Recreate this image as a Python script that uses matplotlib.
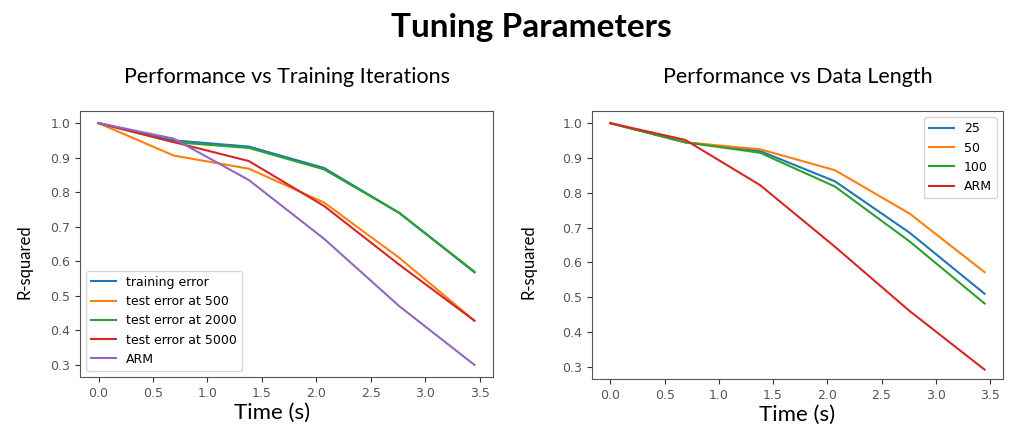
import matplotlib.pyplot as plt

time_s = [0.0, 0.69, 1.38, 2.07, 2.76, 3.45]

# left panel: training iterations
iter_labels = ['training error', 'test error at 500', 'test error at 2000',
               'test error at 5000', 'ARM']
training_error = [1.0, 0.950, 0.932, 0.870, 0.740, 0.568]
test_500 = [1.0, 0.906, 0.868, 0.770, 0.610, 0.428]
test_2000 = [1.0, 0.945, 0.928, 0.866, 0.740, 0.570]
test_5000 = [1.0, 0.945, 0.890, 0.760, 0.590, 0.428]
arm_iter = [1.0, 0.955, 0.835, 0.665, 0.470, 0.300]

# right panel: data length
length_labels = ['25', '50', '100', 'ARM']
len_25 = [1.0, 0.945, 0.920, 0.833, 0.685, 0.510]
len_50 = [1.0, 0.945, 0.925, 0.865, 0.740, 0.572]
len_100 = [1.0, 0.945, 0.915, 0.818, 0.660, 0.482]
arm_len = [1.0, 0.952, 0.822, 0.645, 0.460, 0.292]

colors = ['#1f77b4', '#ff7f0e', '#2ca02c', '#d62728', '#9467bd']
title_font = 'Lato'

fig = plt.figure(figsize=(10.16, 4.25), dpi=100)
fig.text(531 / 1016, 1 - 28 / 425, 'Tuning Parameters', ha='center', va='center',
         fontsize=24, fontweight='bold', family=title_font)

ax1 = fig.add_axes([80 / 1016, 1 - 377 / 425, 413 / 1016, 266 / 425])
ax2 = fig.add_axes([592 / 1016, 1 - 379 / 425, 411 / 1016, 268 / 425])

for ys, lab, c in zip([training_error, test_500, test_2000, test_5000, arm_iter],
                      iter_labels, colors):
    ax1.plot(time_s, ys, color=c, label=lab, lw=1.5)
ax1.legend(loc='lower left', fontsize=9)

for ys, lab, c in zip([len_25, len_50, len_100, arm_len], length_labels, colors):
    ax2.plot(time_s, ys, color=c, label=lab, lw=1.5)
ax2.legend(loc='upper right', fontsize=9)

for ax, ttl in [(ax1, 'Performance vs Training Iterations'),
                (ax2, 'Performance vs Data Length')]:
    ax.set_xlim(-0.17, 3.62)
    ax.set_ylim(0.265, 1.035)
    ax.set_xticks([0.0, 0.5, 1.0, 1.5, 2.0, 2.5, 3.0, 3.5])
    ax.set_yticks([0.3, 0.4, 0.5, 0.6, 0.7, 0.8, 0.9, 1.0])
    ax.tick_params(labelsize=9, colors='#333333', labelcolor='#555555')
    for s in ax.spines.values():
        s.set_color('#555555')
    ax.set_title(ttl, fontsize=15.5, family=title_font, pad=20)
    ax.set_xlabel('Time (s)', fontsize=16, family=title_font)

ax1.xaxis.set_label_coords(0.465, -0.098)
ax2.xaxis.set_label_coords(0.5, -0.098)
ax1.xaxis.label.set_va('top')
ax2.xaxis.label.set_va('top')

fig.text(25 / 1016, 1 - 262 / 425, 'R-squared', rotation=90, ha='center',
         va='center', fontsize=12, family=title_font)
fig.text(528 / 1016, 1 - 262 / 425, 'R-squared', rotation=90, ha='center',
         va='center', fontsize=12, family=title_font)

fig.savefig('out.png', dpi=100)
